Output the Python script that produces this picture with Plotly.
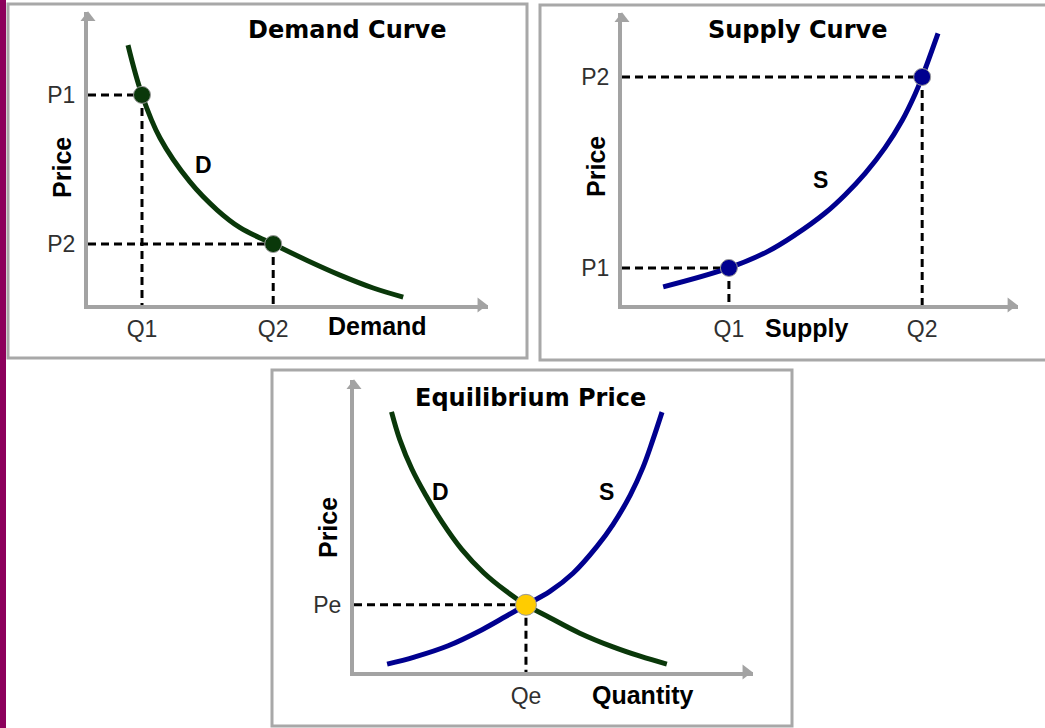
import plotly.graph_objects as go

W, H = 1045, 728

# ---- demand panel (top left) ----
demand_q = [1.0, 1.35, 1.8, 2.55, 3.23, 3.8, 4.63, 5.48, 6.3, 7.13, 7.88]
demand_p = [8.87, 7.17, 5.7, 4.2, 3.24, 2.64, 2.08, 1.52, 1.02, 0.58, 0.27]
demand_pts_q = [1.35, 4.63]
demand_pts_p = [7.17, 2.08]
demand_qlabels = ["Q1", "Q2"]
demand_plabels = ["P1", "P2"]

# ---- supply panel (top right) ----
supply_q = [1.04, 2.70, 3.66, 4.37, 5.13, 5.63, 6.14, 6.64, 7.07, 7.40, 7.58, 7.98]
supply_p = [0.62, 1.27, 1.82, 2.40, 3.15, 3.77, 4.51, 5.38, 6.31, 7.22, 7.81, 9.30]
supply_pts_q = [2.70, 7.58]
supply_pts_p = [1.27, 7.81]
supply_qlabels = ["Q1", "Q2"]
supply_plabels = ["P1", "P2"]

# ---- equilibrium panel (bottom) ----
eq_demand_q = [0.94, 1.15, 1.45, 1.80, 2.20, 2.70, 3.25, 3.80, 4.31, 4.91, 5.66, 6.49, 7.17, 7.84]
eq_demand_p = [8.91, 7.95, 6.95, 6.05, 5.15, 4.20, 3.40, 2.78, 2.30, 1.86, 1.33, 0.86, 0.54, 0.27]
eq_supply_q = [0.83, 1.53, 2.36, 3.21, 3.80, 4.31, 4.91, 5.49, 6.09, 6.49, 6.92, 7.24, 7.49, 7.72]
eq_supply_p = [0.27, 0.52, 0.90, 1.45, 1.90, 2.30, 2.76, 3.38, 4.30, 5.05, 6.05, 7.00, 7.95, 8.90]
eq_pts_q = [4.31]
eq_pts_p = [2.30]
eq_qlabels = ["Qe"]
eq_plabels = ["Pe"]

GREEN = "#0a380a"
BLUE = "#00008f"
GRAY = "#a3a3a3"
BORDER = "#a8a8a8"


def px_x(a, b):
    return [a / W, b / W]


def px_y(bottom, top):
    return [1 - bottom / H, 1 - top / H]


def guides(qs, ps):
    # dashed lines from the axes to each marked point
    x, y = [], []
    for q, p in zip(qs, ps):
        x += [0, q, None, q, q, None]
        y += [p, p, None, p, 0, None]
    return x, y


fig = go.Figure()

panels = [
    ("x", "y", demand_pts_q, demand_pts_p, [(demand_q, demand_p, GREEN)], GREEN),
    ("x2", "y2", supply_pts_q, supply_pts_p, [(supply_q, supply_p, BLUE)], BLUE),
    ("x3", "y3", eq_pts_q, eq_pts_p,
     [(eq_demand_q, eq_demand_p, GREEN), (eq_supply_q, eq_supply_p, BLUE)], "#ffcc00"),
]

for xa, ya, pq, pp, curves, dotcol in panels:
    gx, gy = guides(pq, pp)
    fig.add_trace(go.Scatter(x=gx, y=gy, xaxis=xa, yaxis=ya, mode="lines",
                             line=dict(color="black", width=3, dash="8px,5px"),
                             hoverinfo="skip"))
    for cq, cp, col in curves:
        fig.add_trace(go.Scatter(x=cq, y=cp, xaxis=xa, yaxis=ya, mode="lines",
                                 line=dict(color=col, width=5, shape="spline", smoothing=1.1),
                                 hoverinfo="skip"))
    big = 21 if dotcol == "#ffcc00" else 17
    fig.add_trace(go.Scatter(x=pq, y=pp, xaxis=xa, yaxis=ya, mode="markers",
                             marker=dict(color=dotcol, size=big,
                                         line=dict(color="#9a9a9a", width=1)),
                             hoverinfo="skip"))
    # arrow heads on the axes
    fig.add_trace(go.Scatter(x=[9.82, 0], y=[0, 9.8], xaxis=xa, yaxis=ya, mode="markers",
                             marker=dict(color=GRAY, size=13,
                                         symbol=["triangle-right", "triangle-up"]),
                             cliponaxis=False, hoverinfo="skip"))

tick_font = dict(family="Liberation Sans, Arial, sans-serif", size=23, color="#303030")


def ax(domain, anchor, vals, text, standoff):
    return dict(domain=domain, anchor=anchor, range=[0, 10], showline=True,
                linecolor=GRAY, linewidth=4, showgrid=False, zeroline=False,
                ticks="", tickvals=vals, ticktext=text, tickfont=tick_font,
                ticklabelstandoff=standoff, fixedrange=True)


fig.update_layout(
    width=W, height=H,
    margin=dict(l=0, r=0, t=0, b=0),
    paper_bgcolor="white", plot_bgcolor="white",
    showlegend=False,
    xaxis=ax(px_x(88, 488), "y", demand_pts_q, demand_qlabels, 0),
    yaxis=ax(px_y(305, 12), "x", demand_pts_p, demand_plabels, 4),
    xaxis2=ax(px_x(622, 1018), "y2", supply_pts_q, supply_qlabels, 0),
    yaxis2=ax(px_y(305, 13), "x2", supply_pts_p, supply_plabels, 4),
    xaxis3=ax(px_x(354, 753), "y3", eq_pts_q, eq_qlabels, 0),
    yaxis3=ax(px_y(672, 380), "x3", eq_pts_p, eq_plabels, 4),
)

# panel frames and the coloured strip on the left
for x0, y0, x1, y1 in [(8, 4, 527, 358), (540, 5, 1050, 360), (272, 370, 792, 726)]:
    fig.add_shape(type="rect", xref="paper", yref="paper",
                  x0=x0 / W, x1=x1 / W, y0=1 - y1 / H, y1=1 - y0 / H,
                  line=dict(color=BORDER, width=3), fillcolor="rgba(0,0,0,0)")
fig.add_shape(type="rect", xref="paper", yref="paper", x0=0, x1=6 / W, y0=0, y1=1,
              line=dict(width=0), fillcolor="#8c005c")

title_font = dict(family="DejaVu Sans, Verdana, sans-serif", size=24, color="black", weight="bold")
for text, cx, cy in [("Demand Curve", 347, 30), ("Supply Curve", 797, 30),
                     ("Equilibrium Price", 530, 398)]:
    fig.add_annotation(text=text, xref="paper", yref="paper", x=cx / W, y=1 - cy / H,
                       xanchor="center", yanchor="middle", showarrow=False, font=title_font)

label_font = dict(family="Liberation Sans, Arial, sans-serif", size=25, color="black", weight="bold")
narrow_font = dict(family="Liberation Sans Narrow, Arial Narrow, Liberation Sans, sans-serif",
                   size=23, color="black", weight="bold")

# axis words
for xa, ya, word, wx, shift, py in [("x", "y", "Demand", 7.23, -21, 4.68),
                                    ("x2", "y2", "Supply", 4.67, -23, 4.73),
                                    ("x3", "y3", "Quantity", 7.24, -23, 4.93)]:
    fig.add_annotation(text=word, xref=xa, yref=ya, x=wx, y=0, yshift=shift,
                       xanchor="center", yanchor="middle", showarrow=False, font=label_font)
    fig.add_annotation(text="Price", xref=xa, yref=ya, x=0, y=py, xshift=-26,
                       xanchor="center", yanchor="middle",
                       textangle=-90, showarrow=False, font=label_font)

# curve letters
for xa, ya, letter, lx, ly in [("x", "y", "D", 2.88, 4.78), ("x2", "y2", "S", 5.0, 4.28),
                               ("x3", "y3", "D", 2.16, 6.16), ("x3", "y3", "S", 6.34, 6.16)]:
    fig.add_annotation(text=letter, xref=xa, yref=ya, x=lx, y=ly,
                       showarrow=False, font=narrow_font)

fig.write_html("out.html", config={"displayModeBar": False},
               post_script="document.body.style.margin='0px';")
